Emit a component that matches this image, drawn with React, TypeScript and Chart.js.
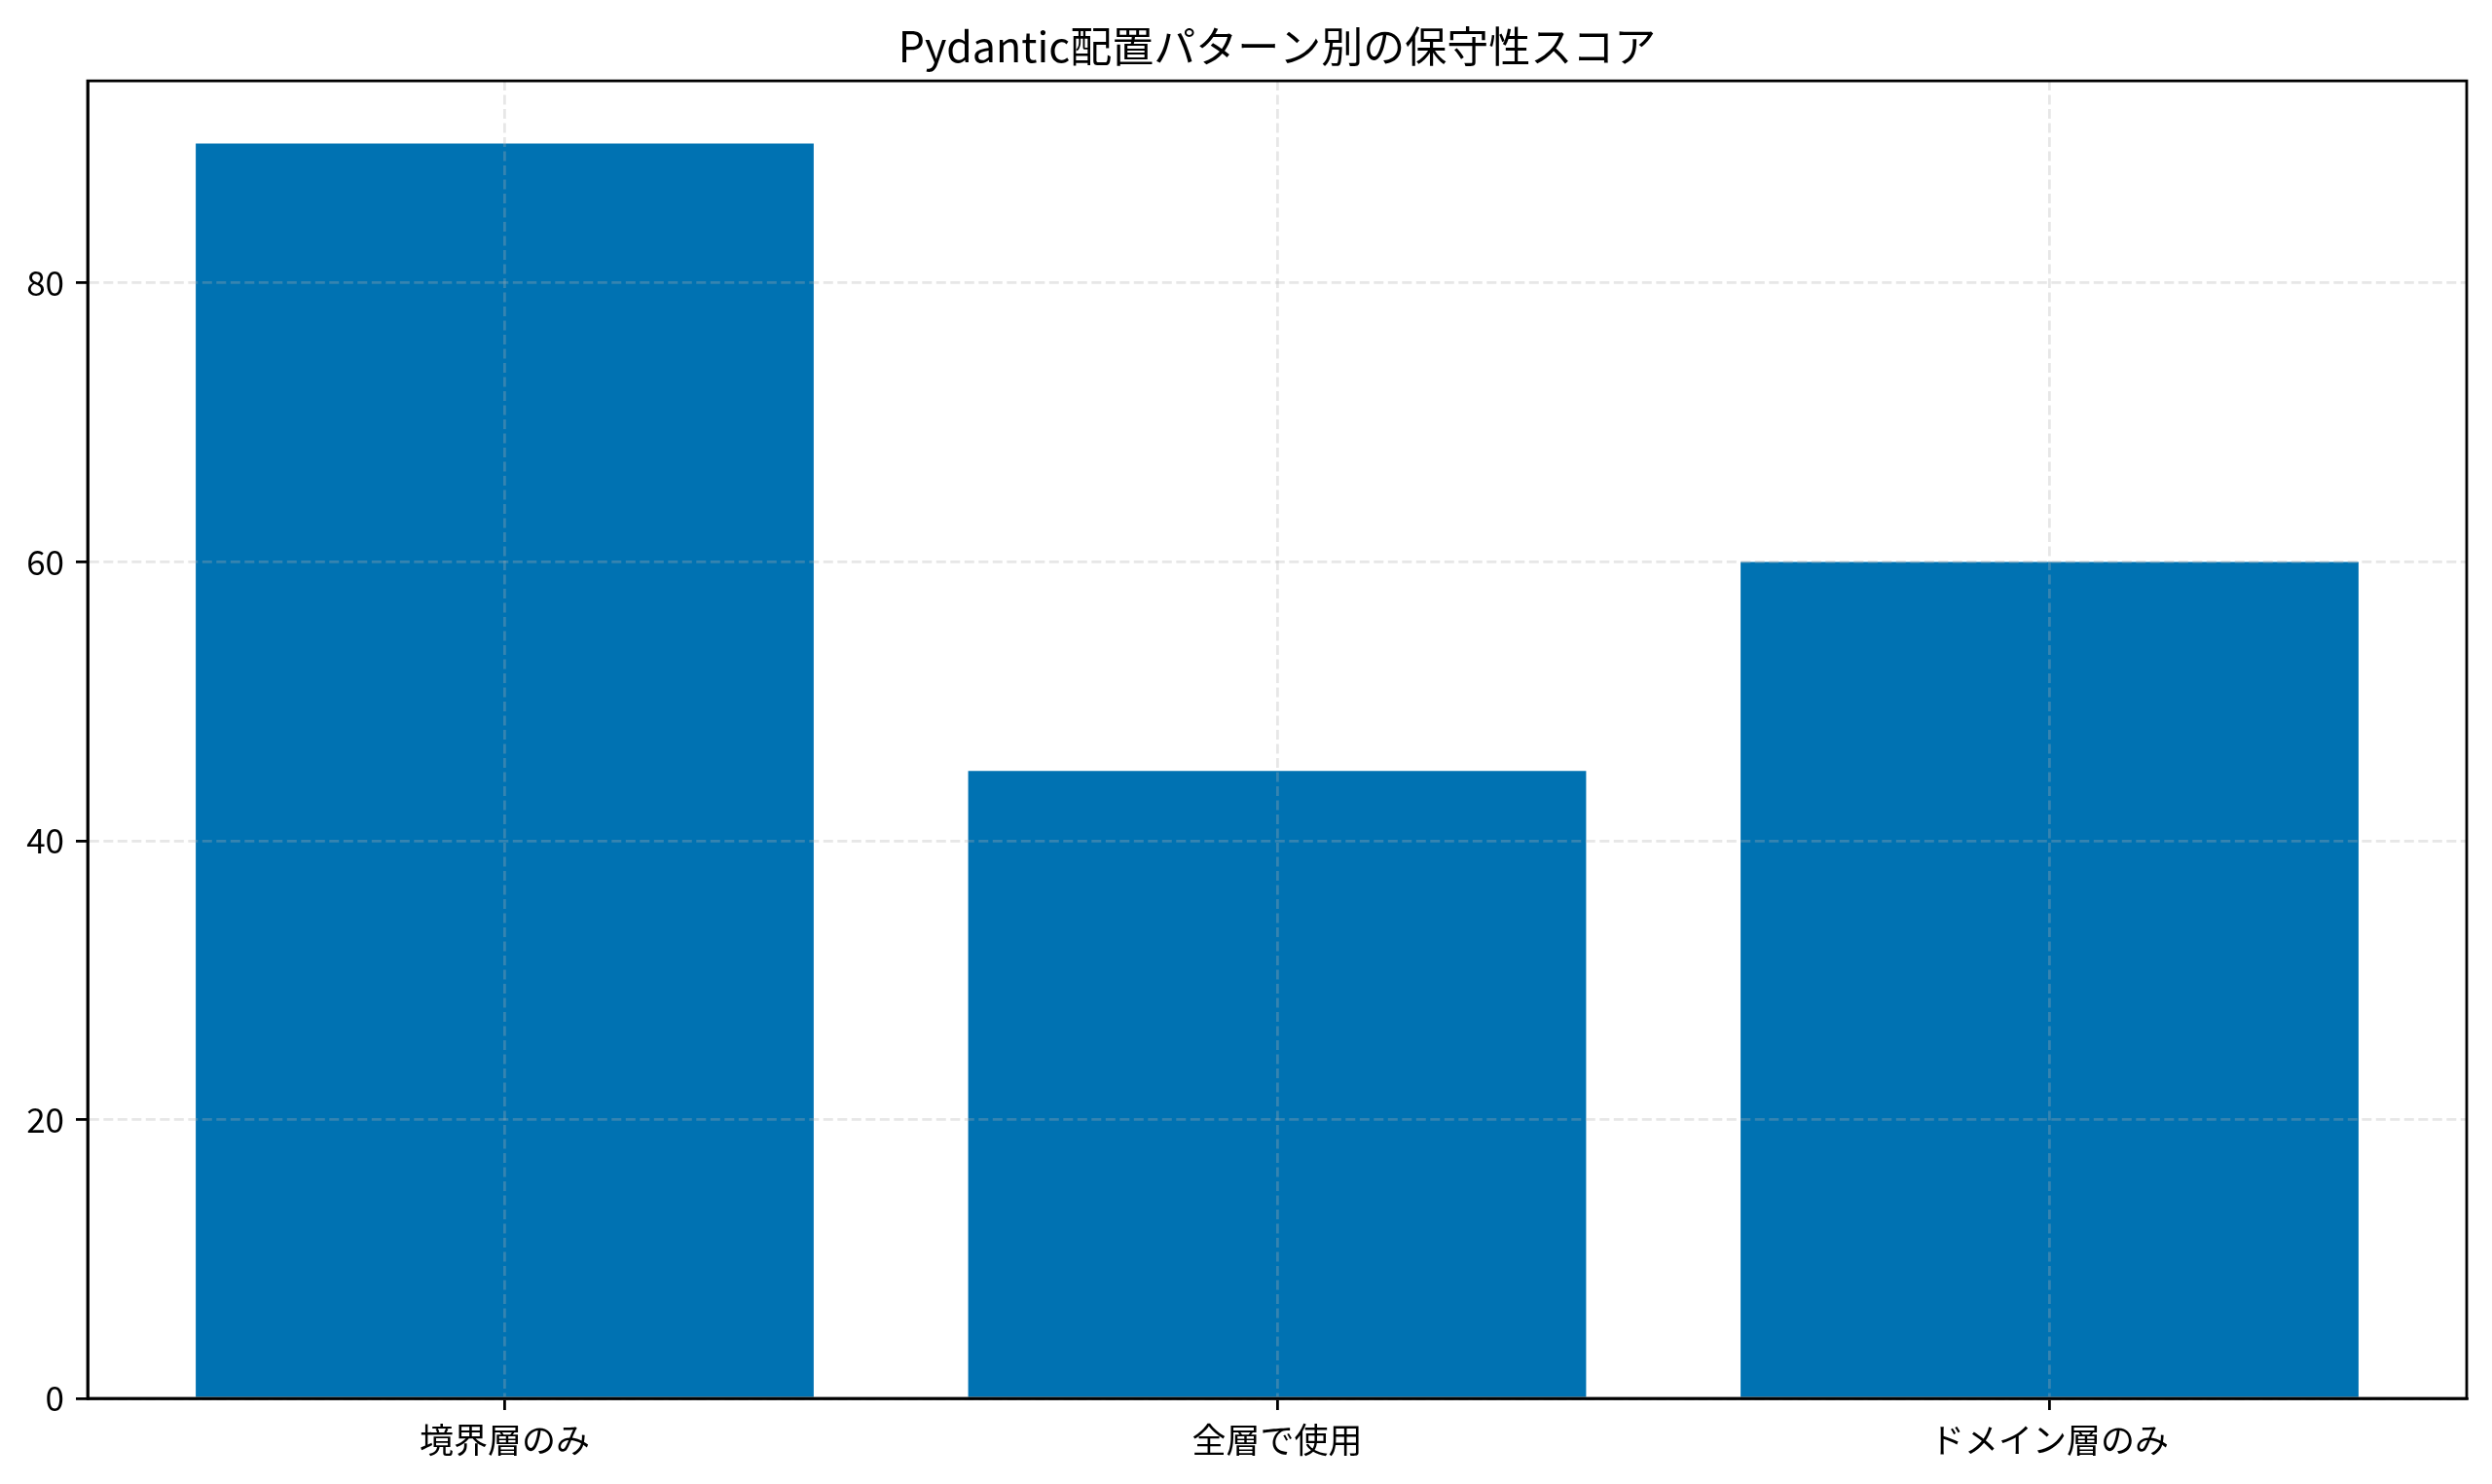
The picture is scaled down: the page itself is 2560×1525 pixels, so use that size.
import { Chart, registerables, type Plugin } from 'chart.js';
import { useEffect, useRef } from 'react';

Chart.register(...registerables);

const title = 'Pydantic配置パターン別の保守性スコア';
const categories = ['境界層のみ', '全層で使用', 'ドメイン層のみ'];
const scores = [90, 45, 60];
const yTicks = [0, 20, 40, 60, 80];

const font = '"Noto Sans CJK JP", "Noto Sans", sans-serif';

// top and right spines, like a matplotlib frame
const frame: Plugin<'bar'> = {
  id: 'frame',
  afterDraw(chart) {
    const { ctx, chartArea } = chart;
    ctx.save();
    ctx.setLineDash([]);
    ctx.strokeStyle = '#000';
    ctx.lineWidth = 2.8;
    ctx.strokeRect(chartArea.left, chartArea.top, chartArea.right - chartArea.left, chartArea.bottom - chartArea.top);
    ctx.restore();
  },
};

// grid sits above the bars, as in the source plot
const grid = {
  z: 1,
  color: 'rgba(176,176,176,0.3)',
  lineWidth: 2.8,
  offset: false,
  tickColor: '#000',
  tickWidth: 2.8,
  tickLength: 12,
};

const border = { display: true, color: '#000', width: 2.8, dash: [10, 4.5], z: 2 };

export default function App() {
  const canvasRef = useRef<HTMLCanvasElement>(null);
  const chartRef = useRef<Chart<'bar'> | null>(null);

  useEffect(() => {
    if (!canvasRef.current) {
      return;
    }

    const context = canvasRef.current.getContext('2d');

    if (!context) {
      return;
    }

    chartRef.current = new Chart(context, {
      type: 'bar',
      data: {
        datasets: [
          {
            data: scores.map((y, x) => ({ x, y })),
            backgroundColor: '#0072B2',
            borderWidth: 0,
            barPercentage: 1,
            categoryPercentage: 0.8,
          },
        ],
      },
      options: {
        animation: false,
        responsive: false,
        devicePixelRatio: 1,
        layout: { padding: { left: 0, right: 26, top: 0, bottom: 0 } },
        plugins: {
          legend: { display: false },
          tooltip: { enabled: false },
          title: {
            display: true,
            text: title,
            color: '#000',
            fullSize: false,
            font: { family: font, size: 43, weight: 'normal', lineHeight: 1.2 },
            padding: { top: 21.5, bottom: 10 },
          },
        },
        scales: {
          x: {
            type: 'linear',
            min: -0.54,
            max: 2.54,
            offset: false,
            grid,
            border,
            afterBuildTicks: (scale) => {
              scale.ticks = categories.map((_, i) => ({ value: i }));
            },
            afterFit: (scale) => {
              scale.height = 88;
            },
            ticks: {
              color: '#000',
              padding: 10,
              maxRotation: 0,
              autoSkip: false,
              font: { family: font, size: 35 },
              callback: (value) => categories[Number(value)] ?? '',
            },
          },
          y: {
            min: 0,
            max: 94.5,
            grid,
            border,
            afterBuildTicks: (scale) => {
              scale.ticks = yTicks.map((value) => ({ value }));
            },
            afterFit: (scale) => {
              scale.width = 90;
            },
            ticks: {
              color: '#000',
              padding: 12,
              font: { family: font, size: 35 },
            },
          },
        },
      },
      plugins: [frame],
    });

    return () => {
      chartRef.current?.destroy();
    };
  }, []);

  return (
    <div style={{ position: 'absolute', top: 0, left: 0, width: 2560, height: 1525, background: '#fff' }}>
      <canvas ref={canvasRef} width={2560} height={1525} style={{ display: 'block' }} />
    </div>
  );
}
